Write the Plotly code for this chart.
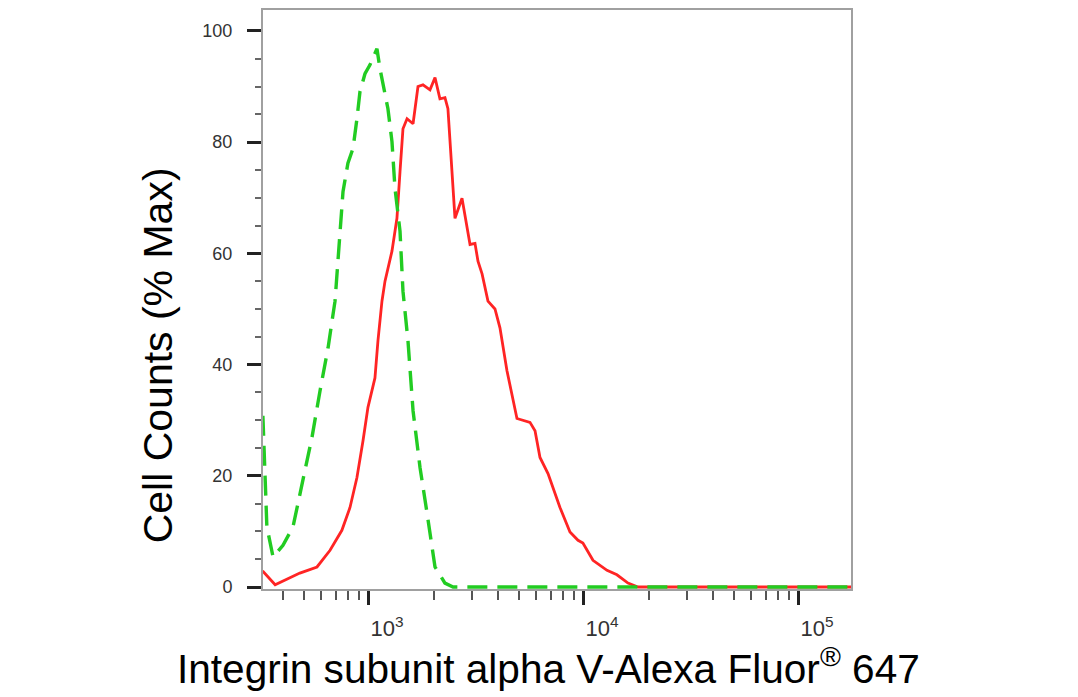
import plotly.graph_objects as go

# Red (stained sample) histogram: fluorescence intensity vs % max
red_x = [320, 366, 477, 573, 659, 748, 816, 879, 938, 989, 1066, 1101, 1149, 1187,
         1279, 1349, 1394, 1439, 1503, 1603, 1690, 1783, 1922, 2028, 2138, 2256, 2329,
         2381, 2432, 2512, 2708, 2797, 2951, 3112, 3213, 3357, 3576, 3855, 4066, 4383,
         4878, 5609, 5919, 6243, 6803, 7733, 8606, 9381, 9886, 11010, 12796, 14232,
         16020, 17830, 25000, 40000, 70000, 120000, 180000]
red_y = [2.9, 0.4, 2.5, 3.6, 6.6, 10.2, 14.3, 19.7, 26.3, 32.3, 37.6, 44.3, 51.4, 55.0,
         60.4, 66.3, 74.7, 82.4, 84.2, 83.3, 90.0, 90.3, 89.4, 91.6, 87.8, 88.0, 86.0,
         79.6, 73.5, 66.3, 69.9, 67.0, 61.6, 61.8, 58.6, 56.3, 51.4, 50.0, 46.6, 38.9,
         30.3, 29.6, 28.1, 23.3, 20.4, 14.3, 9.9, 8.4, 7.9, 4.8, 3.0, 2.2,
         0.7, 0.0, 0.0, 0.0, 0.0, 0.0, 0.0]

# Green dashed (isotype control) histogram
green_x = [321, 328, 335, 358, 398, 443, 493, 543, 592, 645, 695, 733, 757, 798, 843,
           879, 908, 958, 1011, 1089, 1125, 1225, 1279, 1321, 1394, 1439, 1518, 1603,
           1727, 1862, 2028, 2256, 2461, 4000, 8000, 15000, 30000, 60000, 120000, 180000]
green_y = [30.8, 19.2, 10.8, 5.4, 7.5, 10.8, 19.2, 26.9, 35.3, 43.0, 51.4, 62.7, 71.1,
           76.2, 78.9, 84.2, 89.1, 92.3, 93.9, 96.8, 93.2, 86.0, 80.1, 71.7, 64.0, 53.2,
           44.3, 31.7, 21.5, 13.3, 3.6, 0.7, 0.0, 0.0, 0.0, 0.0, 0.0, 0.0, 0.0, 0.0]

x_tick_vals = [1000, 10000, 100000]
x_tick_text = ["10<sup>3</sup>", "10<sup>4</sup>", "10<sup>5</sup>"]
x_minor_vals = [400, 500, 600, 700, 800, 900,
                2000, 3000, 4000, 5000, 6000, 7000, 8000, 9000,
                20000, 30000, 40000, 50000, 60000, 70000, 80000, 90000]
y_tick_vals = [0, 20, 40, 60, 80, 100]

x_title = "Integrin subunit alpha V-Alexa Fluor<sup>®</sup> 647"
y_title = "Cell Counts (% Max)"

FONT = "Liberation Sans, Arial, sans-serif"

fig = go.Figure()
fig.add_trace(go.Scatter(x=red_x, y=red_y, mode="lines",
                         line=dict(color="#ff2424", width=2.8),
                         showlegend=False, hoverinfo="skip"))
fig.add_trace(go.Scatter(x=green_x, y=green_y, mode="lines",
                         line=dict(color="#22cc22", width=3.4, dash="20px,10px"),
                         showlegend=False, hoverinfo="skip"))

fig.update_layout(
    width=1078, height=697,
    margin=dict(l=255, r=235, t=0, b=116),
    paper_bgcolor="white", plot_bgcolor="white",
    font=dict(family=FONT, color="#000"),
    showlegend=False,
    annotations=[
        dict(text=x_title, xref="paper", yref="paper", x=0.4847, y=-0.1325,
             xanchor="center", yanchor="middle", showarrow=False,
             font=dict(family=FONT, size=40.6, color="#000")),
        dict(text=y_title, xref="paper", yref="paper", x=-0.1793, y=0.4028,
             xanchor="center", yanchor="middle", showarrow=False, textangle=-90,
             font=dict(family=FONT, size=41, color="#000")),
    ],
)

fig.update_xaxes(
    type="log", range=[2.507, 5.242],
    showgrid=False, zeroline=False,
    showline=True, linecolor="#a0a0a0", linewidth=2, mirror=True,
    tickmode="array", tickvals=x_tick_vals, ticktext=x_tick_text,
    ticks="outside", ticklen=14, tickwidth=3, tickcolor="#222",
    tickfont=dict(family=FONT, size=22, color="#333"),
    ticklabelshift=18, ticklabelstandoff=5,
    minor=dict(tickmode="array", tickvals=x_minor_vals, ticks="outside",
               ticklen=9, tickwidth=1.5, tickcolor="#555", showgrid=False),
)

fig.update_yaxes(
    range=[-0.36, 103.76],
    showgrid=False, zeroline=False,
    showline=True, linecolor="#a0a0a0", linewidth=2, mirror=True,
    tickmode="array", tickvals=y_tick_vals,
    ticks="outside", ticklen=14, tickwidth=3, tickcolor="#222",
    tickfont=dict(family=FONT, size=18, color="#333"),
    ticklabelstandoff=11,
    minor=dict(dtick=5, ticks="outside", ticklen=6, tickwidth=1.5,
               tickcolor="#666", showgrid=False),
)

fig.write_html("out.html")
